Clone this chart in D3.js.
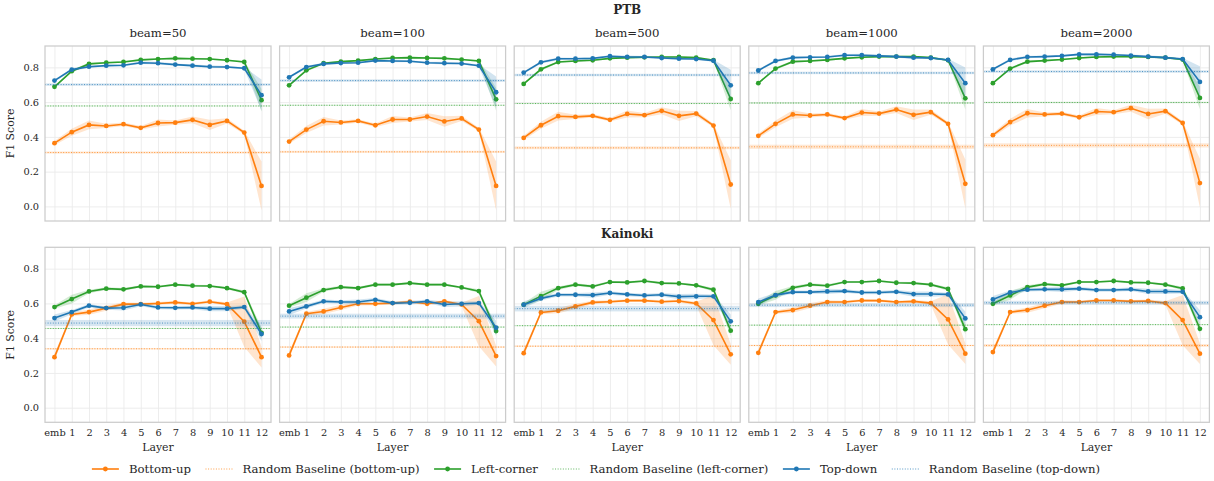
<!DOCTYPE html>
<html>
<head>
<meta charset="utf-8">
<script src="https://cdn.jsdelivr.net/npm/d3@7"></script>
<style>
  body { margin: 0; background: #fff; }
</style>
</head>
<body>
<div id="chart"></div>
<script>
// x axis categories
const layers = ["emb", "1", "2", "3", "4", "5", "6", "7", "8", "9", "10", "11", "12"];
const beams = [50, 100, 500, 1000, 2000];
const datasets = ["PTB", "Kainoki"];
const seriesNames = ["Bottom-up", "Left-corner", "Top-down"];
const seriesColors = ["#ff7f0e", "#2ca02c", "#1f77b4"];

// PTB, one row per beam
const ptbBottomUp = [
    [0.364, 0.427, 0.469, 0.463, 0.473, 0.452, 0.480, 0.482, 0.498, 0.469, 0.492, 0.425, 0.118],
    [0.373, 0.442, 0.490, 0.483, 0.492, 0.467, 0.500, 0.500, 0.517, 0.489, 0.506, 0.442, 0.118],
    [0.394, 0.467, 0.519, 0.515, 0.521, 0.498, 0.532, 0.525, 0.550, 0.521, 0.534, 0.465, 0.126],
    [0.406, 0.475, 0.529, 0.523, 0.529, 0.508, 0.540, 0.534, 0.557, 0.527, 0.542, 0.475, 0.130],
    [0.410, 0.485, 0.536, 0.529, 0.534, 0.513, 0.546, 0.542, 0.565, 0.532, 0.548, 0.480, 0.134]
];
const ptbLeftCorner = [
    [0.688, 0.778, 0.820, 0.827, 0.831, 0.843, 0.848, 0.852, 0.850, 0.848, 0.841, 0.831, 0.611],
    [0.697, 0.783, 0.824, 0.833, 0.839, 0.848, 0.854, 0.856, 0.854, 0.852, 0.845, 0.837, 0.616],
    [0.705, 0.789, 0.831, 0.837, 0.841, 0.852, 0.856, 0.858, 0.860, 0.860, 0.856, 0.841, 0.618],
    [0.709, 0.793, 0.833, 0.837, 0.843, 0.852, 0.858, 0.862, 0.862, 0.862, 0.856, 0.841, 0.622],
    [0.709, 0.793, 0.833, 0.839, 0.845, 0.854, 0.860, 0.862, 0.862, 0.860, 0.856, 0.845, 0.624]
];
const ptbTopDown = [
    [0.724, 0.787, 0.804, 0.810, 0.812, 0.827, 0.824, 0.816, 0.810, 0.804, 0.802, 0.795, 0.640],
    [0.743, 0.802, 0.820, 0.825, 0.827, 0.839, 0.837, 0.835, 0.827, 0.824, 0.822, 0.810, 0.657],
    [0.770, 0.829, 0.850, 0.850, 0.852, 0.864, 0.860, 0.860, 0.854, 0.850, 0.848, 0.838, 0.697],
    [0.782, 0.837, 0.856, 0.858, 0.860, 0.870, 0.870, 0.866, 0.862, 0.856, 0.854, 0.843, 0.709],
    [0.789, 0.843, 0.860, 0.862, 0.866, 0.875, 0.875, 0.873, 0.868, 0.862, 0.856, 0.848, 0.716]
];
// half widths of the shaded bands, by layer
const ptbBottomUpCI = [0.012, 0.02, 0.025, 0.012, 0.01, 0.01, 0.02, 0.012, 0.02, 0.03, 0.015, 0.01, 0.14];
const ptbLeftCornerCI = [0.005, 0.008, 0.006, 0.005, 0.005, 0.005, 0.005, 0.005, 0.005, 0.005, 0.005, 0.005, 0.065];
const ptbTopDownCI = [0.006, 0.008, 0.007, 0.005, 0.005, 0.007, 0.008, 0.006, 0.006, 0.008, 0.006, 0.006, 0.09];
// random baselines, one per beam
const ptbBaseBottomUp = [0.310, 0.314, 0.337, 0.343, 0.351];
const ptbBaseLeftCorner = [0.578, 0.582, 0.592, 0.595, 0.598];
const ptbBaseTopDown = [0.701, 0.724, 0.756, 0.768, 0.776];
const ptbBaseBottomUpCI = [0.006, 0.006, 0.008, 0.012, 0.012];
const ptbBaseLeftCornerCI = [0.003, 0.003, 0.003, 0.004, 0.004];
const ptbBaseTopDownCI = [0.007, 0.007, 0.007, 0.007, 0.007];

// Kainoki, one row per beam
const kaiBottomUp = [
    [0.291, 0.537, 0.550, 0.573, 0.596, 0.596, 0.600, 0.606, 0.598, 0.610, 0.596, 0.495, 0.291],
    [0.301, 0.541, 0.554, 0.577, 0.598, 0.598, 0.602, 0.610, 0.598, 0.612, 0.594, 0.498, 0.297],
    [0.314, 0.548, 0.558, 0.583, 0.606, 0.610, 0.616, 0.616, 0.610, 0.614, 0.600, 0.504, 0.307],
    [0.316, 0.550, 0.562, 0.587, 0.608, 0.608, 0.617, 0.616, 0.608, 0.612, 0.602, 0.508, 0.311],
    [0.320, 0.550, 0.562, 0.587, 0.608, 0.608, 0.617, 0.617, 0.612, 0.614, 0.602, 0.504, 0.311]
];
const kaiLeftCorner = [
    [0.579, 0.625, 0.669, 0.685, 0.681, 0.698, 0.696, 0.708, 0.702, 0.700, 0.688, 0.665, 0.431],
    [0.587, 0.633, 0.677, 0.694, 0.688, 0.708, 0.708, 0.717, 0.708, 0.708, 0.692, 0.671, 0.441],
    [0.593, 0.642, 0.688, 0.708, 0.698, 0.723, 0.721, 0.729, 0.717, 0.715, 0.704, 0.679, 0.443],
    [0.598, 0.646, 0.690, 0.708, 0.702, 0.723, 0.723, 0.729, 0.719, 0.717, 0.708, 0.683, 0.452],
    [0.598, 0.646, 0.694, 0.711, 0.704, 0.723, 0.723, 0.729, 0.721, 0.719, 0.708, 0.686, 0.454]
];
const kaiTopDown = [
    [0.516, 0.550, 0.587, 0.573, 0.575, 0.594, 0.577, 0.575, 0.577, 0.570, 0.570, 0.579, 0.424],
    [0.554, 0.583, 0.612, 0.608, 0.608, 0.621, 0.602, 0.604, 0.612, 0.594, 0.598, 0.602, 0.460],
    [0.593, 0.629, 0.650, 0.650, 0.648, 0.660, 0.652, 0.646, 0.650, 0.639, 0.641, 0.641, 0.497],
    [0.608, 0.648, 0.665, 0.665, 0.669, 0.671, 0.663, 0.663, 0.667, 0.654, 0.654, 0.652, 0.514],
    [0.623, 0.663, 0.679, 0.681, 0.681, 0.685, 0.677, 0.677, 0.681, 0.669, 0.669, 0.667, 0.521]
];
const kaiBottomUpCI = [0.02, 0.01, 0.015, 0.015, 0.01, 0.008, 0.008, 0.008, 0.008, 0.008, 0.01, 0.145, 0.06];
const kaiLeftCornerCI = [0.01, 0.025, 0.01, 0.008, 0.008, 0.006, 0.006, 0.006, 0.006, 0.006, 0.006, 0.01, 0.03];
const kaiTopDownCI = [0.02, 0.012, 0.01, 0.01, 0.015, 0.01, 0.01, 0.01, 0.01, 0.015, 0.015, 0.01, 0.04];
const kaiBaseBottomUp = [0.339, 0.349, 0.354, 0.358, 0.358];
const kaiBaseLeftCorner = [0.456, 0.464, 0.472, 0.475, 0.478];
const kaiBaseTopDown = [0.487, 0.527, 0.570, 0.590, 0.604];
const kaiBaseBottomUpCI = [0.004, 0.004, 0.004, 0.004, 0.008];
const kaiBaseLeftCornerCI = [0.003, 0.003, 0.003, 0.003, 0.003];
const kaiBaseTopDownCI = [0.018, 0.014, 0.016, 0.011, 0.011];

const yTicks = [0.0, 0.2, 0.4, 0.6, 0.8];

// tables the drawing code reads from
const rowSeries = [
    [ptbBottomUp, ptbLeftCorner, ptbTopDown],
    [kaiBottomUp, kaiLeftCorner, kaiTopDown]
];
const rowCI = [
    [ptbBottomUpCI, ptbLeftCornerCI, ptbTopDownCI],
    [kaiBottomUpCI, kaiLeftCornerCI, kaiTopDownCI]
];
const rowBase = [
    [ptbBaseBottomUp, ptbBaseLeftCorner, ptbBaseTopDown],
    [kaiBaseBottomUp, kaiBaseLeftCorner, kaiBaseTopDown]
];
const rowBaseCI = [
    [ptbBaseBottomUpCI, ptbBaseLeftCornerCI, ptbBaseTopDownCI],
    [kaiBaseBottomUpCI, kaiBaseLeftCornerCI, kaiBaseTopDownCI]
];

const FONT = "DejaVu Serif";
const TEXT_COLOR = "#262626";
const width = 1214, height = 481;
const panelW = 226, panelH = 175;
const panelLeft = 45, panelStep = 234.6;
const rowTop = [46, 247.3];

const svg = d3.select("#chart").append("svg")
    .attr("width", width).attr("height", height)
    .attr("font-family", FONT);

const x = d3.scaleLinear().domain([-0.55, 12.55]).range([0, panelW]);
const y = d3.scaleLinear().domain([-0.084, 0.923]).range([panelH, 0]);

const line = d3.line().x((d, i) => x(i)).y(d => y(d));

function addText(parent, str, size, anchor) {
    return parent.append("text")
        .attr("font-family", FONT).attr("font-size", size)
        .attr("fill", TEXT_COLOR).attr("text-anchor", anchor || "middle")
        .text(str);
}

function drawPanel(row, col) {
    let g = svg.append("g")
        .attr("transform", "translate(" + (panelLeft + col * panelStep) + "," + rowTop[row] + ")");

    // grid
    let xGrid = g.append("g").attr("transform", "translate(0," + panelH + ")")
        .call(d3.axisBottom(x).tickValues(d3.range(13)).tickSize(-panelH).tickFormat(""));
    let yGrid = g.append("g")
        .call(d3.axisLeft(y).tickValues(yTicks).tickSize(-panelW).tickFormat(""));
    [xGrid, yGrid].forEach(a => {
        a.select(".domain").remove();
        a.selectAll("line").attr("stroke", "#ebebeb").attr("stroke-width", 0.9);
    });

    for (let s = 0; s < 3; s++) {
        let vals = rowSeries[row][s][col];
        let ci = rowCI[row][s];
        let color = seriesColors[s];

        let band = d3.area()
            .x((d, i) => x(i))
            .y0((d, i) => y(d - ci[i]))
            .y1((d, i) => y(d + ci[i]));

        g.append("path").attr("d", band(vals))
            .attr("fill", color).attr("fill-opacity", 0.2).attr("stroke", "none");
        g.append("path").attr("d", line(vals))
            .attr("fill", "none").attr("stroke", color).attr("stroke-width", 1.6);
        g.selectAll(null).data(vals).enter().append("circle")
            .attr("cx", (d, i) => x(i)).attr("cy", d => y(d))
            .attr("r", 2.4).attr("fill", color);

        // random baseline across the whole panel
        let b = rowBase[row][s][col];
        let bci = rowBaseCI[row][s][col];
        g.append("rect")
            .attr("x", 0).attr("width", panelW)
            .attr("y", y(b + bci)).attr("height", y(b - bci) - y(b + bci))
            .attr("fill", color).attr("fill-opacity", 0.18);
        g.append("line")
            .attr("x1", 0).attr("x2", panelW).attr("y1", y(b)).attr("y2", y(b))
            .attr("stroke", color).attr("stroke-width", 1).attr("stroke-opacity", 0.75)
            .attr("stroke-dasharray", "1,1.6");
    }

    // frame
    g.append("rect").attr("width", panelW).attr("height", panelH)
        .attr("fill", "none").attr("stroke", "#cccccc").attr("stroke-width", 1.25);

    if (col === 0) {
        let ya = g.append("g").call(d3.axisLeft(y).tickValues(yTicks).tickSize(0).tickPadding(6).tickFormat(d3.format(".1f")));
        ya.attr("font-family", FONT).attr("font-size", 9.8);
        ya.select(".domain").remove();
        ya.selectAll("text").attr("fill", TEXT_COLOR);
        addText(g, "F1 Score", 10.9)
            .attr("transform", "translate(-31," + (panelH / 2) + ") rotate(-90)");
    }
    if (row === 1) {
        let xa = g.append("g").attr("transform", "translate(0," + panelH + ")")
            .call(d3.axisBottom(x).tickValues(d3.range(13)).tickSize(0).tickPadding(7).tickFormat(i => layers[i]));
        xa.attr("font-family", FONT).attr("font-size", 9.8);
        xa.select(".domain").remove();
        xa.selectAll("text").attr("fill", TEXT_COLOR);
        addText(g, "Layer", 10.9).attr("x", panelW / 2).attr("y", panelH + 29);
    }
    if (row === 0) {
        addText(g, "beam=" + beams[col], 11.7).attr("x", panelW / 2).attr("y", -9);
    }
}

for (let r = 0; r < 2; r++) {
    for (let c = 0; c < 5; c++) {
        drawPanel(r, c);
    }
}

// dataset headings
let midX = panelLeft + 2 * panelStep + panelW / 2;
addText(svg, datasets[0], 12).attr("x", midX).attr("y", 14).attr("font-weight", "bold");
addText(svg, datasets[1], 12).attr("x", midX).attr("y", 238).attr("font-weight", "bold");

// legend
let legendItems = [];
seriesNames.forEach((n, i) => {
    legendItems.push({ label: n, color: seriesColors[i], base: false });
    legendItems.push({ label: "Random Baseline (" + n.toLowerCase() + ")", color: seriesColors[i], base: true });
});

let legend = svg.append("g");
let lx = 0;
const legendY = 469;
legendItems.forEach(item => {
    let it = legend.append("g").attr("transform", "translate(" + lx + "," + legendY + ")");
    if (item.base) {
        it.append("line").attr("x1", 0).attr("x2", 27).attr("y1", 0).attr("y2", 0)
            .attr("stroke", item.color).attr("stroke-width", 1).attr("stroke-opacity", 0.75)
            .attr("stroke-dasharray", "1,1.6");
    } else {
        it.append("line").attr("x1", 0).attr("x2", 27).attr("y1", 0).attr("y2", 0)
            .attr("stroke", item.color).attr("stroke-width", 1.6);
        it.append("circle").attr("cx", 13.5).attr("cy", 0).attr("r", 2.4).attr("fill", item.color);
    }
    let t = addText(it, item.label, 11.7, "start").attr("x", 37).attr("y", 4);
    lx += 37 + t.node().getComputedTextLength() + 14.5;
});
lx -= 14.5;
legend.attr("transform", "translate(" + (596 - lx / 2) + ",0)");
</script>
</body>
</html>
